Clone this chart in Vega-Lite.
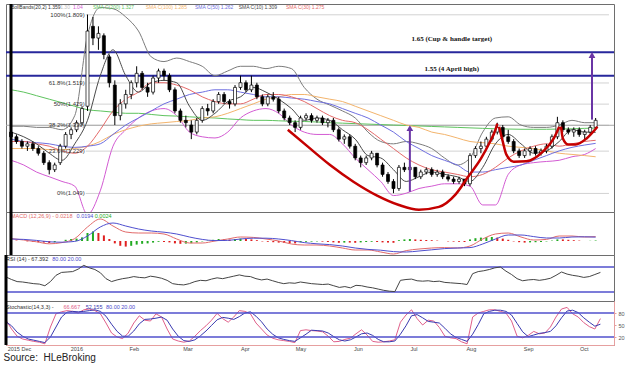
{
"$schema":"https://vega.github.io/schema/vega-lite/v6.json",
"padding":{"left":3,"top":2,"right":0,"bottom":0},
"background":"white",
"bounds":"flush",
"config":{"view":{"stroke":"#6e6e6e","strokeWidth":1},"axis":{"labelFont":"Liberation Sans","labelFontSize":5.5,"labelColor":"#555","tickSize":2,"tickColor":"#e6a0a0","domainColor":"#e6a0a0","grid":false,"labelPadding":2},"text":{"font":"Liberation Sans","fontSize":5.5,"baseline":"middle"}},
"title":{"text":"Source:\u00a0 HLeBroking","orient":"bottom","anchor":"start","font":"Liberation Sans","fontSize":10,"fontWeight":"normal","color":"#222","offset":1},
"datasets":{
"px":[
{"d":"2015-11-24","o":1.31,"h":1.32,"l":1.28,"c":1.29,"hs":0.004,"hd":"dn","r":56,"k":62,"sd":58},
{"d":"2015-11-27","o":1.29,"h":1.30,"l":1.26,"c":1.27,"hs":0.002,"hd":"dn","r":50,"k":40,"sd":48},
{"d":"2015-11-30","o":1.27,"h":1.28,"l":1.24,"c":1.25,"hs":0,"hd":"dn","r":45,"k":22,"sd":32},
{"d":"2015-12-03","o":1.25,"h":1.27,"l":1.23,"c":1.26,"hs":-0.002,"hd":"dn","r":44,"k":15,"sd":22},
{"d":"2015-12-06","o":1.26,"h":1.27,"l":1.23,"c":1.24,"hs":-0.004,"hd":"dn","r":42,"k":12,"sd":15},
{"d":"2015-12-09","o":1.24,"h":1.25,"l":1.21,"c":1.22,"hs":-0.006,"hd":"dn","r":40,"k":9,"sd":12},
{"d":"2015-12-12","o":1.22,"h":1.23,"l":1.17,"c":1.18,"hs":-0.008,"hd":"dn","r":39,"k":7,"sd":9},
{"d":"2015-12-15","o":1.18,"h":1.19,"l":1.13,"c":1.15,"hs":-0.01,"hd":"dn","r":35,"k":3,"sd":6},
{"d":"2015-12-18","o":1.15,"h":1.18,"l":1.14,"c":1.17,"hs":-0.006,"hd":"up","r":45,"k":45,"sd":20},
{"d":"2015-12-21","o":1.18,"h":1.26,"l":1.17,"c":1.25,"hs":0,"hd":"up","r":60,"k":78,"sd":45},
{"d":"2015-12-24","o":1.25,"h":1.31,"l":1.24,"c":1.30,"hs":0.006,"hd":"up","r":67,"k":83,"sd":70},
{"d":"2015-12-27","o":1.30,"h":1.33,"l":1.28,"c":1.32,"hs":0.01,"hd":"up","r":68,"k":86,"sd":82},
{"d":"2015-12-30","o":1.32,"h":1.36,"l":1.31,"c":1.35,"hs":0.012,"hd":"up","r":69,"k":84,"sd":84},
{"d":"2016-01-02","o":1.35,"h":1.42,"l":1.34,"c":1.41,"hs":0.018,"hd":"up","r":75,"k":80,"sd":83},
{"d":"2016-01-05","o":1.42,"h":1.81,"l":1.40,"c":1.74,"hs":0.04,"hd":"up","r":84,"k":88,"sd":84},
{"d":"2016-01-08","o":1.76,"h":1.80,"l":1.68,"c":1.71,"hs":0.048,"hd":"up","r":78,"k":90,"sd":86},
{"d":"2016-01-11","o":1.71,"h":1.76,"l":1.66,"c":1.73,"hs":0.04,"hd":"dn","r":74,"k":86,"sd":88},
{"d":"2016-01-14","o":1.72,"h":1.73,"l":1.62,"c":1.64,"hs":0.028,"hd":"dn","r":66,"k":78,"sd":84},
{"d":"2016-01-17","o":1.63,"h":1.64,"l":1.50,"c":1.52,"hs":0.01,"hd":"dn","r":52,"k":55,"sd":72},
{"d":"2016-01-20","o":1.51,"h":1.53,"l":1.34,"c":1.38,"hs":-0.012,"hd":"dn","r":45,"k":30,"sd":52},
{"d":"2016-01-23","o":1.38,"h":1.45,"l":1.36,"c":1.43,"hs":-0.024,"hd":"dn","r":49,"k":20,"sd":34},
{"d":"2016-01-26","o":1.43,"h":1.49,"l":1.41,"c":1.47,"hs":-0.028,"hd":"dn","r":52,"k":16,"sd":22},
{"d":"2016-01-29","o":1.47,"h":1.53,"l":1.45,"c":1.52,"hs":-0.024,"hd":"up","r":54,"k":30,"sd":22},
{"d":"2016-02-01","o":1.52,"h":1.59,"l":1.50,"c":1.56,"hs":-0.018,"hd":"up","r":57,"k":55,"sd":35},
{"d":"2016-02-04","o":1.56,"h":1.57,"l":1.49,"c":1.50,"hs":-0.014,"hd":"up","r":55,"k":73,"sd":53},
{"d":"2016-02-07","o":1.50,"h":1.52,"l":1.46,"c":1.48,"hs":-0.012,"hd":"up","r":54,"k":62,"sd":64},
{"d":"2016-02-10","o":1.48,"h":1.55,"l":1.47,"c":1.54,"hs":-0.008,"hd":"up","r":58,"k":60,"sd":65},
{"d":"2016-02-13","o":1.54,"h":1.58,"l":1.52,"c":1.57,"hs":-0.004,"hd":"up","r":56,"k":78,"sd":67},
{"d":"2016-02-16","o":1.57,"h":1.58,"l":1.53,"c":1.55,"hs":-0.005,"hd":"dn","r":53,"k":70,"sd":70},
{"d":"2016-02-19","o":1.55,"h":1.56,"l":1.48,"c":1.49,"hs":-0.007,"hd":"dn","r":48,"k":40,"sd":62},
{"d":"2016-02-22","o":1.49,"h":1.50,"l":1.39,"c":1.40,"hs":-0.012,"hd":"dn","r":40,"k":15,"sd":40},
{"d":"2016-02-25","o":1.40,"h":1.41,"l":1.35,"c":1.36,"hs":-0.014,"hd":"dn","r":38,"k":10,"sd":22},
{"d":"2016-02-28","o":1.36,"h":1.38,"l":1.33,"c":1.35,"hs":-0.013,"hd":"up","r":37,"k":7,"sd":11},
{"d":"2016-03-02","o":1.34,"h":1.36,"l":1.28,"c":1.31,"hs":-0.011,"hd":"up","r":40,"k":10,"sd":9},
{"d":"2016-03-05","o":1.31,"h":1.37,"l":1.30,"c":1.36,"hs":-0.007,"hd":"up","r":45,"k":22,"sd":13},
{"d":"2016-03-08","o":1.36,"h":1.42,"l":1.35,"c":1.41,"hs":-0.002,"hd":"up","r":48,"k":36,"sd":23},
{"d":"2016-03-11","o":1.41,"h":1.43,"l":1.38,"c":1.40,"hs":0.002,"hd":"up","r":47,"k":48,"sd":35},
{"d":"2016-03-14","o":1.40,"h":1.45,"l":1.39,"c":1.44,"hs":0.006,"hd":"up","r":51,"k":62,"sd":49},
{"d":"2016-03-17","o":1.44,"h":1.48,"l":1.43,"c":1.47,"hs":0.01,"hd":"up","r":54,"k":79,"sd":63},
{"d":"2016-03-20","o":1.47,"h":1.48,"l":1.43,"c":1.44,"hs":0.009,"hd":"dn","r":52,"k":66,"sd":69},
{"d":"2016-03-23","o":1.44,"h":1.45,"l":1.41,"c":1.43,"hs":0.007,"hd":"dn","r":55,"k":57,"sd":67},
{"d":"2016-03-26","o":1.43,"h":1.51,"l":1.42,"c":1.50,"hs":0.01,"hd":"up","r":58,"k":70,"sd":64},
{"d":"2016-03-29","o":1.50,"h":1.55,"l":1.49,"c":1.52,"hs":0.012,"hd":"up","r":61,"k":86,"sd":71},
{"d":"2016-04-01","o":1.52,"h":1.53,"l":1.48,"c":1.49,"hs":0.01,"hd":"dn","r":58,"k":84,"sd":80},
{"d":"2016-04-04","o":1.49,"h":1.55,"l":1.48,"c":1.51,"hs":0.008,"hd":"dn","r":57,"k":78,"sd":83},
{"d":"2016-04-07","o":1.51,"h":1.52,"l":1.45,"c":1.46,"hs":0.004,"hd":"dn","r":52,"k":55,"sd":72},
{"d":"2016-04-10","o":1.46,"h":1.47,"l":1.42,"c":1.43,"hs":-0.002,"hd":"dn","r":49,"k":40,"sd":58},
{"d":"2016-04-13","o":1.43,"h":1.47,"l":1.42,"c":1.46,"hs":-0.004,"hd":"dn","r":51,"k":25,"sd":40},
{"d":"2016-04-16","o":1.46,"h":1.48,"l":1.44,"c":1.45,"hs":-0.006,"hd":"dn","r":47,"k":17,"sd":27},
{"d":"2016-04-19","o":1.45,"h":1.46,"l":1.39,"c":1.40,"hs":-0.008,"hd":"dn","r":43,"k":13,"sd":18},
{"d":"2016-04-22","o":1.40,"h":1.41,"l":1.36,"c":1.37,"hs":-0.01,"hd":"dn","r":40,"k":11,"sd":14},
{"d":"2016-04-25","o":1.37,"h":1.38,"l":1.34,"c":1.35,"hs":-0.011,"hd":"dn","r":42,"k":9,"sd":11},
{"d":"2016-04-28","o":1.35,"h":1.36,"l":1.31,"c":1.33,"hs":-0.012,"hd":"dn","r":41,"k":6,"sd":9},
{"d":"2016-05-01","o":1.33,"h":1.38,"l":1.32,"c":1.37,"hs":-0.006,"hd":"up","r":44,"k":36,"sd":18},
{"d":"2016-05-04","o":1.37,"h":1.39,"l":1.36,"c":1.38,"hs":-0.004,"hd":"up","r":42,"k":38,"sd":27},
{"d":"2016-05-07","o":1.38,"h":1.39,"l":1.35,"c":1.36,"hs":-0.003,"hd":"up","r":40,"k":36,"sd":37},
{"d":"2016-05-10","o":1.36,"h":1.38,"l":1.35,"c":1.37,"hs":-0.002,"hd":"up","r":39,"k":35,"sd":36},
{"d":"2016-05-13","o":1.37,"h":1.38,"l":1.34,"c":1.35,"hs":-0.003,"hd":"dn","r":38,"k":33,"sd":35},
{"d":"2016-05-16","o":1.35,"h":1.37,"l":1.33,"c":1.36,"hs":-0.005,"hd":"dn","r":39,"k":22,"sd":30},
{"d":"2016-05-19","o":1.36,"h":1.37,"l":1.31,"c":1.32,"hs":-0.007,"hd":"dn","r":35,"k":8,"sd":21},
{"d":"2016-05-22","o":1.32,"h":1.33,"l":1.27,"c":1.28,"hs":-0.009,"hd":"dn","r":31,"k":9,"sd":13},
{"d":"2016-05-25","o":1.28,"h":1.30,"l":1.26,"c":1.29,"hs":-0.008,"hd":"up","r":33,"k":14,"sd":10},
{"d":"2016-05-28","o":1.29,"h":1.30,"l":1.24,"c":1.25,"hs":-0.008,"hd":"dn","r":30,"k":17,"sd":13},
{"d":"2016-05-31","o":1.25,"h":1.26,"l":1.19,"c":1.20,"hs":-0.009,"hd":"dn","r":36,"k":28,"sd":20},
{"d":"2016-06-03","o":1.20,"h":1.21,"l":1.16,"c":1.18,"hs":-0.007,"hd":"up","r":35,"k":38,"sd":28},
{"d":"2016-06-06","o":1.18,"h":1.21,"l":1.17,"c":1.20,"hs":-0.005,"hd":"up","r":32,"k":25,"sd":30},
{"d":"2016-06-09","o":1.20,"h":1.23,"l":1.19,"c":1.22,"hs":-0.004,"hd":"up","r":30,"k":9,"sd":24},
{"d":"2016-06-12","o":1.22,"h":1.22,"l":1.16,"c":1.17,"hs":-0.005,"hd":"dn","r":27,"k":7,"sd":14},
{"d":"2016-06-15","o":1.17,"h":1.18,"l":1.12,"c":1.13,"hs":-0.007,"hd":"dn","r":24,"k":8,"sd":8},
{"d":"2016-06-18","o":1.13,"h":1.14,"l":1.09,"c":1.10,"hs":-0.008,"hd":"dn","r":22,"k":10,"sd":8},
{"d":"2016-06-21","o":1.10,"h":1.11,"l":1.05,"c":1.07,"hs":-0.009,"hd":"dn","r":21,"k":13,"sd":10},
{"d":"2016-06-24","o":1.07,"h":1.17,"l":1.06,"c":1.16,"hs":0.004,"hd":"up","r":48,"k":57,"sd":27},
{"d":"2016-06-27","o":1.16,"h":1.18,"l":1.14,"c":1.15,"hs":0.008,"hd":"up","r":50,"k":75,"sd":48},
{"d":"2016-06-30","o":1.15,"h":1.17,"l":1.13,"c":1.16,"hs":0.01,"hd":"up","r":51,"k":88,"sd":73},
{"d":"2016-07-03","o":1.16,"h":1.16,"l":1.11,"c":1.12,"hs":0.008,"hd":"dn","r":47,"k":66,"sd":76},
{"d":"2016-07-06","o":1.12,"h":1.15,"l":1.11,"c":1.14,"hs":0.006,"hd":"dn","r":46,"k":50,"sd":68},
{"d":"2016-07-09","o":1.14,"h":1.16,"l":1.13,"c":1.15,"hs":0.005,"hd":"dn","r":47,"k":62,"sd":59},
{"d":"2016-07-12","o":1.15,"h":1.16,"l":1.12,"c":1.13,"hs":0.004,"hd":"dn","r":45,"k":60,"sd":57},
{"d":"2016-07-15","o":1.13,"h":1.15,"l":1.12,"c":1.14,"hs":0.002,"hd":"dn","r":46,"k":44,"sd":55},
{"d":"2016-07-18","o":1.14,"h":1.15,"l":1.11,"c":1.12,"hs":0,"hd":"dn","r":43,"k":22,"sd":42},
{"d":"2016-07-21","o":1.12,"h":1.13,"l":1.10,"c":1.11,"hs":-0.002,"hd":"dn","r":42,"k":18,"sd":28},
{"d":"2016-07-24","o":1.11,"h":1.12,"l":1.09,"c":1.10,"hs":-0.003,"hd":"dn","r":41,"k":16,"sd":19},
{"d":"2016-07-27","o":1.10,"h":1.12,"l":1.09,"c":1.11,"hs":-0.004,"hd":"dn","r":40,"k":8,"sd":14},
{"d":"2016-07-30","o":1.11,"h":1.11,"l":1.08,"c":1.09,"hs":-0.005,"hd":"dn","r":38,"k":3,"sd":9},
{"d":"2016-08-02","o":1.09,"h":1.22,"l":1.08,"c":1.21,"hs":0.008,"hd":"up","r":64,"k":70,"sd":27},
{"d":"2016-08-05","o":1.21,"h":1.25,"l":1.20,"c":1.24,"hs":0.014,"hd":"up","r":69,"k":80,"sd":51},
{"d":"2016-08-08","o":1.24,"h":1.27,"l":1.22,"c":1.25,"hs":0.017,"hd":"up","r":71,"k":84,"sd":78},
{"d":"2016-08-11","o":1.25,"h":1.29,"l":1.24,"c":1.28,"hs":0.019,"hd":"up","r":74,"k":88,"sd":84},
{"d":"2016-08-14","o":1.28,"h":1.32,"l":1.27,"c":1.31,"hs":0.02,"hd":"up","r":78,"k":88,"sd":87},
{"d":"2016-08-17","o":1.31,"h":1.35,"l":1.30,"c":1.33,"hs":0.017,"hd":"dn","r":80,"k":84,"sd":87},
{"d":"2016-08-20","o":1.33,"h":1.34,"l":1.28,"c":1.29,"hs":0.012,"hd":"dn","r":70,"k":80,"sd":84},
{"d":"2016-08-23","o":1.29,"h":1.32,"l":1.26,"c":1.27,"hs":0.006,"hd":"dn","r":62,"k":60,"sd":75},
{"d":"2016-08-26","o":1.27,"h":1.28,"l":1.22,"c":1.23,"hs":-0.002,"hd":"dn","r":52,"k":22,"sd":54},
{"d":"2016-08-29","o":1.23,"h":1.24,"l":1.20,"c":1.21,"hs":-0.006,"hd":"dn","r":47,"k":18,"sd":33},
{"d":"2016-09-01","o":1.21,"h":1.24,"l":1.20,"c":1.23,"hs":-0.008,"hd":"dn","r":49,"k":24,"sd":21},
{"d":"2016-09-04","o":1.23,"h":1.25,"l":1.21,"c":1.24,"hs":-0.007,"hd":"up","r":50,"k":34,"sd":25},
{"d":"2016-09-07","o":1.24,"h":1.25,"l":1.21,"c":1.22,"hs":-0.006,"hd":"up","r":48,"k":28,"sd":29},
{"d":"2016-09-10","o":1.22,"h":1.24,"l":1.21,"c":1.23,"hs":-0.005,"hd":"up","r":50,"k":30,"sd":31},
{"d":"2016-09-13","o":1.23,"h":1.26,"l":1.22,"c":1.25,"hs":-0.002,"hd":"up","r":53,"k":45,"sd":34},
{"d":"2016-09-16","o":1.25,"h":1.30,"l":1.24,"c":1.29,"hs":0.002,"hd":"up","r":60,"k":70,"sd":48},
{"d":"2016-09-19","o":1.29,"h":1.375,"l":1.28,"c":1.35,"hs":0.008,"hd":"up","r":68,"k":90,"sd":68},
{"d":"2016-09-22","o":1.35,"h":1.36,"l":1.31,"c":1.32,"hs":0.008,"hd":"dn","r":63,"k":94,"sd":85},
{"d":"2016-09-25","o":1.32,"h":1.33,"l":1.30,"c":1.31,"hs":0.006,"hd":"dn","r":60,"k":78,"sd":87},
{"d":"2016-09-28","o":1.31,"h":1.33,"l":1.29,"c":1.32,"hs":0.004,"hd":"dn","r":58,"k":70,"sd":81},
{"d":"2016-10-01","o":1.32,"h":1.33,"l":1.29,"c":1.30,"hs":0.002,"hd":"dn","r":55,"k":56,"sd":68},
{"d":"2016-10-04","o":1.30,"h":1.32,"l":1.28,"c":1.31,"hs":0,"hd":"dn","r":57,"k":46,"sd":57},
{"d":"2016-10-07","o":1.31,"h":1.34,"l":1.30,"c":1.33,"hs":0.001,"hd":"up","r":62,"k":40,"sd":47},
{"d":"2016-10-10","o":1.33,"h":1.37,"l":1.32,"c":1.36,"hs":0.0024,"hd":"up","r":67,"k":66,"sd":52}
],
"wk":[
{"d":"2015-11-24","bbu":1.335,"bbl":1.19,"s10":1.31,"s30":1.27,"s50":1.28,"s100":1.24,"s200":1.49,"m":0.012,"sg":0.010},
{"d":"2015-12-01","bbu":1.335,"bbl":1.17,"s10":1.29,"s30":1.27,"s50":1.27,"s100":1.24,"s200":1.48,"m":0.005,"sg":0.008},
{"d":"2015-12-08","bbu":1.33,"bbl":1.14,"s10":1.26,"s30":1.26,"s50":1.265,"s100":1.24,"s200":1.465,"m":-0.004,"sg":0.003},
{"d":"2015-12-15","bbu":1.33,"bbl":1.12,"s10":1.22,"s30":1.25,"s50":1.26,"s100":1.235,"s200":1.45,"m":-0.014,"sg":-0.004},
{"d":"2015-12-22","bbu":1.32,"bbl":1.10,"s10":1.19,"s30":1.23,"s50":1.25,"s100":1.235,"s200":1.435,"m":-0.008,"sg":-0.006},
{"d":"2015-12-29","bbu":1.38,"bbl":1.08,"s10":1.26,"s30":1.22,"s50":1.245,"s100":1.24,"s200":1.42,"m":0.012,"sg":-0.002},
{"d":"2016-01-05","bbu":1.72,"bbl":0.96,"s10":1.36,"s30":1.25,"s50":1.25,"s100":1.25,"s200":1.405,"m":0.07,"sg":0.025},
{"d":"2016-01-12","bbu":1.84,"bbl":1.06,"s10":1.55,"s30":1.32,"s50":1.26,"s100":1.27,"s200":1.40,"m":0.11,"sg":0.07},
{"d":"2016-01-19","bbu":1.835,"bbl":1.25,"s10":1.66,"s30":1.40,"s50":1.30,"s100":1.30,"s200":1.395,"m":0.075,"sg":0.09},
{"d":"2016-01-26","bbu":1.80,"bbl":1.32,"s10":1.55,"s30":1.45,"s50":1.34,"s100":1.32,"s200":1.39,"m":0.045,"sg":0.075},
{"d":"2016-02-02","bbu":1.74,"bbl":1.37,"s10":1.48,"s30":1.48,"s50":1.37,"s100":1.335,"s200":1.39,"m":0.04,"sg":0.06},
{"d":"2016-02-09","bbu":1.63,"bbl":1.40,"s10":1.52,"s30":1.52,"s50":1.40,"s100":1.345,"s200":1.385,"m":0.04,"sg":0.05},
{"d":"2016-02-16","bbu":1.61,"bbl":1.41,"s10":1.53,"s30":1.52,"s50":1.43,"s100":1.35,"s200":1.38,"m":0.035,"sg":0.044},
{"d":"2016-02-23","bbu":1.625,"bbl":1.38,"s10":1.52,"s30":1.51,"s50":1.45,"s100":1.355,"s200":1.378,"m":0.01,"sg":0.035},
{"d":"2016-03-01","bbu":1.61,"bbl":1.31,"s10":1.42,"s30":1.49,"s50":1.47,"s100":1.36,"s200":1.375,"m":-0.01,"sg":0.02},
{"d":"2016-03-08","bbu":1.59,"bbl":1.29,"s10":1.36,"s30":1.46,"s50":1.48,"s100":1.37,"s200":1.372,"m":-0.01,"sg":0.008},
{"d":"2016-03-15","bbu":1.55,"bbl":1.285,"s10":1.39,"s30":1.44,"s50":1.49,"s100":1.375,"s200":1.37,"m":0.0,"sg":0.002},
{"d":"2016-03-22","bbu":1.57,"bbl":1.31,"s10":1.44,"s30":1.43,"s50":1.49,"s100":1.39,"s200":1.366,"m":0.01,"sg":0.003},
{"d":"2016-03-29","bbu":1.59,"bbl":1.37,"s10":1.46,"s30":1.43,"s50":1.48,"s100":1.41,"s200":1.363,"m":0.02,"sg":0.01},
{"d":"2016-04-05","bbu":1.59,"bbl":1.40,"s10":1.50,"s30":1.45,"s50":1.47,"s100":1.43,"s200":1.36,"m":0.018,"sg":0.014},
{"d":"2016-04-12","bbu":1.58,"bbl":1.41,"s10":1.48,"s30":1.47,"s50":1.46,"s100":1.45,"s200":1.36,"m":0.01,"sg":0.014},
{"d":"2016-04-19","bbu":1.59,"bbl":1.39,"s10":1.45,"s30":1.47,"s50":1.46,"s100":1.46,"s200":1.358,"m":0.0,"sg":0.01},
{"d":"2016-04-26","bbu":1.58,"bbl":1.34,"s10":1.41,"s30":1.46,"s50":1.455,"s100":1.47,"s200":1.356,"m":-0.015,"sg":0.002},
{"d":"2016-05-03","bbu":1.50,"bbl":1.31,"s10":1.36,"s30":1.44,"s50":1.45,"s100":1.47,"s200":1.355,"m":-0.02,"sg":-0.008},
{"d":"2016-05-10","bbu":1.45,"bbl":1.30,"s10":1.37,"s30":1.41,"s50":1.44,"s100":1.46,"s200":1.353,"m":-0.02,"sg":-0.014},
{"d":"2016-05-17","bbu":1.425,"bbl":1.30,"s10":1.36,"s30":1.38,"s50":1.43,"s100":1.45,"s200":1.35,"m":-0.025,"sg":-0.018},
{"d":"2016-05-24","bbu":1.40,"bbl":1.26,"s10":1.32,"s30":1.36,"s50":1.41,"s100":1.44,"s200":1.348,"m":-0.035,"sg":-0.025},
{"d":"2016-05-31","bbu":1.37,"bbl":1.20,"s10":1.28,"s30":1.35,"s50":1.39,"s100":1.42,"s200":1.346,"m":-0.045,"sg":-0.035},
{"d":"2016-06-07","bbu":1.31,"bbl":1.15,"s10":1.21,"s30":1.32,"s50":1.37,"s100":1.40,"s200":1.344,"m":-0.045,"sg":-0.042},
{"d":"2016-06-14","bbu":1.27,"bbl":1.10,"s10":1.20,"s30":1.28,"s50":1.34,"s100":1.38,"s200":1.342,"m":-0.055,"sg":-0.046},
{"d":"2016-06-21","bbu":1.26,"bbl":1.04,"s10":1.15,"s30":1.24,"s50":1.31,"s100":1.36,"s200":1.34,"m":-0.065,"sg":-0.053},
{"d":"2016-06-28","bbu":1.27,"bbl":1.05,"s10":1.10,"s30":1.20,"s50":1.27,"s100":1.34,"s200":1.338,"m":-0.048,"sg":-0.055},
{"d":"2016-07-05","bbu":1.26,"bbl":1.07,"s10":1.12,"s30":1.17,"s50":1.24,"s100":1.33,"s200":1.336,"m":-0.04,"sg":-0.05},
{"d":"2016-07-12","bbu":1.24,"bbl":1.08,"s10":1.14,"s30":1.15,"s50":1.21,"s100":1.31,"s200":1.334,"m":-0.035,"sg":-0.044},
{"d":"2016-07-19","bbu":1.20,"bbl":1.09,"s10":1.13,"s30":1.14,"s50":1.19,"s100":1.30,"s200":1.332,"m":-0.033,"sg":-0.038},
{"d":"2016-07-26","bbu":1.17,"bbl":1.09,"s10":1.12,"s30":1.13,"s50":1.17,"s100":1.285,"s200":1.33,"m":-0.035,"sg":-0.035},
{"d":"2016-08-02","bbu":1.20,"bbl":1.08,"s10":1.10,"s30":1.12,"s50":1.14,"s100":1.27,"s200":1.328,"m":-0.025,"sg":-0.033},
{"d":"2016-08-09","bbu":1.31,"bbl":1.00,"s10":1.16,"s30":1.13,"s50":1.14,"s100":1.265,"s200":1.326,"m":0.01,"sg":-0.015},
{"d":"2016-08-16","bbu":1.37,"bbl":1.00,"s10":1.26,"s30":1.16,"s50":1.15,"s100":1.26,"s200":1.324,"m":0.035,"sg":0.01},
{"d":"2016-08-23","bbu":1.375,"bbl":1.13,"s10":1.30,"s30":1.20,"s50":1.16,"s100":1.25,"s200":1.323,"m":0.04,"sg":0.03},
{"d":"2016-08-30","bbu":1.34,"bbl":1.17,"s10":1.26,"s30":1.23,"s50":1.17,"s100":1.245,"s200":1.322,"m":0.02,"sg":0.03},
{"d":"2016-09-06","bbu":1.33,"bbl":1.18,"s10":1.22,"s30":1.25,"s50":1.19,"s100":1.24,"s200":1.322,"m":0.005,"sg":0.022},
{"d":"2016-09-13","bbu":1.33,"bbl":1.185,"s10":1.23,"s30":1.26,"s50":1.21,"s100":1.23,"s200":1.322,"m":0.008,"sg":0.015},
{"d":"2016-09-20","bbu":1.34,"bbl":1.19,"s10":1.27,"s30":1.25,"s50":1.23,"s100":1.22,"s200":1.323,"m":0.025,"sg":0.015},
{"d":"2016-09-27","bbu":1.36,"bbl":1.205,"s10":1.32,"s30":1.26,"s50":1.245,"s100":1.215,"s200":1.324,"m":0.025,"sg":0.02},
{"d":"2016-10-04","bbu":1.35,"bbl":1.215,"s10":1.31,"s30":1.27,"s50":1.255,"s100":1.21,"s200":1.326,"m":0.02,"sg":0.021},
{"d":"2016-10-10","bbu":1.35,"bbl":1.24,"s10":1.309,"s30":1.275,"s50":1.262,"s100":1.205,"s200":1.327,"m":0.0218,"sg":0.0194}
],
"fib":[
{"v":1.809,"t":"100%(1.809)"},{"v":1.519,"t":"61.8%(1.519)"},{"v":1.429,"t":"50%(1.429)"},{"v":1.339,"t":"38.2%(1.339)"},{"v":1.229,"t":"23.6%(1.229)"},{"v":1.049,"t":"0%(1.049)"}
],
"lv":[
{"v":1.65,"ty":1.708,"t":"1.65 (Cup & handle target)"},{"v":1.55,"ty":1.58,"t":"1.55 (4 April high)"}
],
"cup":[
{"g":"cup","d":"2016-04-24","v":1.32},{"g":"cup","d":"2016-05-05","v":1.248},{"g":"cup","d":"2016-05-17","v":1.171},{"g":"cup","d":"2016-05-30","v":1.099},{"g":"cup","d":"2016-06-12","v":1.04},{"g":"cup","d":"2016-06-24","v":1.0},{"g":"cup","d":"2016-07-05","v":0.98},{"g":"cup","d":"2016-07-16","v":0.992},{"g":"cup","d":"2016-07-25","v":1.044},{"g":"cup","d":"2016-08-01","v":1.12},{"g":"cup","d":"2016-08-08","v":1.197},{"g":"cup","d":"2016-08-13","v":1.269},{"g":"cup","d":"2016-08-16","v":1.32},{"g":"cup","d":"2016-08-17","v":1.346},
{"g":"h1","d":"2016-08-18","v":1.333},{"g":"h1","d":"2016-08-20","v":1.27},{"g":"h1","d":"2016-08-22","v":1.214},{"g":"h1","d":"2016-08-26","v":1.184},{"g":"h1","d":"2016-09-02","v":1.186},{"g":"h1","d":"2016-09-11","v":1.227},{"g":"h1","d":"2016-09-17","v":1.283},{"g":"h1","d":"2016-09-20","v":1.333},
{"g":"h2","d":"2016-09-21","v":1.333},{"g":"h2","d":"2016-09-22","v":1.283},{"g":"h2","d":"2016-09-25","v":1.257},{"g":"h2","d":"2016-09-29","v":1.257},{"g":"h2","d":"2016-10-05","v":1.283},{"g":"h2","d":"2016-10-11","v":1.333}
],
"ar":[
{"d":"2016-06-30","y0":1.056,"y1":1.33,"tip":1.327},{"d":"2016-10-08","y0":1.363,"y1":1.64,"tip":1.638}
],
"leg":[
{"d":"2015-11-24","t":"BollBands(20,2) 1.359","s":"txt"},
{"d":"2015-12-21","t":"1.30","s":"lg"},
{"d":"2015-12-28","t":"1.04","s":"bbl"},
{"d":"2016-01-08","t":"SMA C(200) 1.327","s":"s200"},
{"d":"2016-02-06","t":"SMA C(100) 1.285","s":"s100"},
{"d":"2016-03-04","t":"SMA C(50) 1.262","s":"s50"},
{"d":"2016-03-28","t":"SMA C(10) 1.309","s":"s10"},
{"d":"2016-04-23","t":"SMA C(30) 1.275","s":"s30"}
],
"mleg":[
{"d":"2015-11-24","t":"MACD (12,26,9) - 0.0218","s":"m"},
{"d":"2015-12-30","t":"0.0194","s":"sg"},
{"d":"2016-01-09","t":"0.0024","s":"up"}
],
"rleg":[
{"d":"2015-11-24","t":"RSI (14) - 67.392","s":"t"},
{"d":"2015-12-19","t":"80.00  20.00","s":"b"}
],
"sleg":[
{"d":"2015-11-24","t":"Stochastic(14,3,3) -","s":"t"},
{"d":"2015-12-25","t":"66.667","s":"k"},
{"d":"2016-01-06","t":"52.155","s":"sd"},
{"d":"2016-01-17","t":"80.00  20.00","s":"b"}
],
"bands":[{"v":80},{"v":20}]
},
"spacing":0,
"resolve":{"scale":{"x":"independent","y":"independent","color":"independent"}},
"vconcat":[
{
"width":608,"height":208,
"layer":[
{"data":{"name":"fib"},"mark":{"type":"rule","color":"#d2d2d2","strokeWidth":1},
 "encoding":{"x":{"datum":{"year":2016,"month":1,"date":4,"utc":true},"type":"temporal","axis":null,"scale":{"type":"utc","domain":[{"year":2015,"month":11,"date":24,"utc":true},{"year":2016,"month":10,"date":17,"hours":8,"utc":true}]}},
  "x2":{"datum":{"year":2016,"month":10,"date":17,"hours":8,"utc":true}},
  "y":{"field":"v","type":"quantitative","scale":{"domain":[0.97,1.855],"nice":false,"zero":false},
   "axis":{"orient":"right","values":[1,1.1,1.2,1.3,1.36,1.4,1.5,1.6,1.7,1.8],"format":".2f","title":null,"labelOverlap":false,"labelFontWeight":{"condition":{"test":"datum.value == 1.36","value":"bold"},"value":"normal"},"labelColor":{"condition":{"test":"datum.value == 1.36","value":"#000"},"value":"#555"}}}}},
{"data":{"values":[{}]},"mark":{"type":"rule","color":"#a8a8a8","strokeWidth":1},"encoding":{"y":{"datum":1.339,"type":"quantitative","axis":null}}},
{"data":{"name":"lv"},"mark":{"type":"rule","color":"#27279c","strokeWidth":2},"encoding":{"y":{"field":"v","type":"quantitative","axis":null}}},
{"data":{"name":"lv"},"mark":{"type":"text","font":"Liberation Serif","fontWeight":"bold","fontSize":7,"color":"#111","align":"center"},
 "encoding":{"x":{"datum":{"year":2016,"month":7,"date":23,"utc":true},"type":"temporal","axis":null},"y":{"field":"ty","type":"quantitative","axis":null},"text":{"field":"t"}}},
{"data":{"name":"wk"},"transform":[{"fold":["bbu","bbl","s200","s100","s50","s30","s10"],"as":["key","val"]}],
 "mark":{"type":"line","strokeWidth":1,"interpolate":"monotone","clip":true},
 "encoding":{"x":{"field":"d","type":"temporal","axis":null},"y":{"field":"val","type":"quantitative","axis":null},
  "color":{"field":"key","type":"nominal","legend":null,"scale":{"domain":["txt","lg","bbu","bbl","s200","s100","s50","s10","s30"],"range":["#333333","#bdbdbd","#7c7c7c","#d35bd3","#5fc45f","#f3b46c","#6f6fe0","#4a4a4a","#e56a6a"]}}}},
{"data":{"name":"px"},"mark":{"type":"rule","color":"#000","strokeWidth":1},
 "encoding":{"x":{"field":"d","type":"temporal","axis":null},"y":{"field":"l","type":"quantitative","axis":null},"y2":{"field":"h"}}},
{"data":{"name":"px"},"mark":{"type":"bar","width":3,"stroke":"#000","strokeWidth":0.7},
 "encoding":{"x":{"field":"d","type":"temporal","axis":null},"y":{"field":"o","type":"quantitative","axis":null},"y2":{"field":"c"},
  "fill":{"condition":{"test":"datum.c < datum.o","value":"#000"},"value":"#fff"}}},
{"data":{"name":"cup"},"mark":{"type":"line","color":"#c40000","strokeWidth":2.5,"interpolate":"monotone","clip":true},
 "encoding":{"x":{"field":"d","type":"temporal","axis":null},"y":{"field":"v","type":"quantitative","axis":null},"detail":{"field":"g"}}},
{"data":{"name":"ar"},"mark":{"type":"rule","color":"#6a35a5","strokeWidth":2},
 "encoding":{"x":{"field":"d","type":"temporal","axis":null},"y":{"field":"y0","type":"quantitative","axis":null},"y2":{"field":"y1"}}},
{"data":{"name":"ar"},"mark":{"type":"point","shape":"triangle-up","filled":true,"size":45,"color":"#6a35a5","opacity":1},
 "encoding":{"x":{"field":"d","type":"temporal","axis":null},"y":{"field":"tip","type":"quantitative","axis":null}}},
{"data":{"name":"fib"},"mark":{"type":"text","align":"right","dx":-1,"fontSize":6,"color":"#333"},
 "encoding":{"x":{"datum":{"year":2016,"month":1,"date":4,"utc":true},"type":"temporal","axis":null},"y":{"field":"v","type":"quantitative","axis":null},"text":{"field":"t"}}},
{"data":{"name":"leg"},"mark":{"type":"text","align":"left","fontSize":5},
 "encoding":{"x":{"field":"d","type":"temporal","axis":null},"y":{"datum":1.842,"type":"quantitative","axis":null},"text":{"field":"t"},
  "color":{"field":"s","type":"nominal","legend":null,"scale":{"domain":["txt","lg","bbu","bbl","s200","s100","s50","s10","s30"],"range":["#333333","#bdbdbd","#7c7c7c","#d35bd3","#5fc45f","#f3b46c","#6f6fe0","#4a4a4a","#e56a6a"]}}}},
{"data":{"values":[{}]},"mark":{"type":"rule","color":"#000","strokeWidth":3},"encoding":{"x":{"datum":{"year":2015,"month":11,"date":24,"utc":true},"type":"temporal","axis":null}}}
]
},
{
"width":608,"height":43,
"layer":[
{"data":{"name":"px"},"mark":{"type":"bar","width":2},
 "encoding":{"x":{"field":"d","type":"temporal","axis":null,"scale":{"type":"utc","domain":[{"year":2015,"month":11,"date":24,"utc":true},{"year":2016,"month":10,"date":17,"hours":8,"utc":true}]}},
  "y":{"field":"hs","type":"quantitative","scale":{"domain":[-0.07,0.145],"nice":false,"zero":false},
   "axis":{"orient":"right","values":[-0.06,-0.02,0.02,0.06,0.1,0.14],"format":".2f","title":null,"labelOverlap":false}},
  "y2":{"datum":0},
  "color":{"field":"hd","type":"nominal","legend":null,"scale":{"domain":["m","sg","up","dn"],"range":["#e26a6a","#4f4fcf","#22aa22","#e02020"]}}}},
{"data":{"name":"wk"},"transform":[{"fold":["m","sg"],"as":["key","val"]}],
 "mark":{"type":"line","strokeWidth":1,"interpolate":"monotone","clip":true},
 "encoding":{"x":{"field":"d","type":"temporal","axis":null},"y":{"field":"val","type":"quantitative","axis":null},
  "color":{"field":"key","type":"nominal","legend":null,"scale":{"domain":["m","sg","up","dn"],"range":["#e26a6a","#4f4fcf","#22aa22","#e02020"]}}}},
{"data":{"name":"mleg"},"mark":{"type":"text","align":"left","fontSize":5.5},
 "encoding":{"x":{"field":"d","type":"temporal","axis":null},"y":{"datum":0.125,"type":"quantitative","axis":null},"text":{"field":"t"},
  "color":{"field":"s","type":"nominal","legend":null,"scale":{"domain":["m","sg","up","dn"],"range":["#e26a6a","#4f4fcf","#22aa22","#e02020"]}}}},
{"data":{"values":[{}]},"mark":{"type":"rule","color":"#000","strokeWidth":3},"encoding":{"x":{"datum":{"year":2015,"month":11,"date":24,"utc":true},"type":"temporal","axis":null}}}
]
},
{
"width":608,"height":46,
"layer":[
{"data":{"name":"bands"},"mark":{"type":"rule","color":"#5050cc","strokeWidth":1.5},
 "encoding":{"y":{"field":"v","type":"quantitative","scale":{"domain":[-1.6,108.8],"nice":false,"zero":false},
  "axis":{"orient":"right","values":[20,50,80],"title":null,"labelOverlap":false}}}},
{"data":{"name":"px"},"mark":{"type":"line","color":"#444","strokeWidth":1},
 "encoding":{"x":{"field":"d","type":"temporal","axis":null,"scale":{"type":"utc","domain":[{"year":2015,"month":11,"date":24,"utc":true},{"year":2016,"month":10,"date":17,"hours":8,"utc":true}]}},
  "y":{"field":"r","type":"quantitative","axis":null}}},
{"data":{"name":"rleg"},"mark":{"type":"text","align":"left","fontSize":5.5},
 "encoding":{"x":{"field":"d","type":"temporal","axis":null},"y":{"datum":99,"type":"quantitative","axis":null},"text":{"field":"t"},
  "color":{"field":"s","type":"nominal","legend":null,"scale":{"domain":["t","b"],"range":["#333333","#4a4acc"]}}}},
{"data":{"values":[{}]},"mark":{"type":"rule","color":"#000","strokeWidth":3},"encoding":{"x":{"datum":{"year":2015,"month":11,"date":24,"utc":true},"type":"temporal","axis":null}}}
]
},
{
"width":608,"height":44,
"layer":[
{"data":{"name":"px"},"transform":[{"fold":["k","sd"],"as":["key","val"]}],
 "mark":{"type":"line","strokeWidth":1},
 "encoding":{"x":{"field":"d","type":"temporal","scale":{"type":"utc","domain":[{"year":2015,"month":11,"date":24,"utc":true},{"year":2016,"month":10,"date":17,"hours":8,"utc":true}]},
   "axis":{"orient":"bottom","title":null,"ticks":false,"values":[{"year":2015,"month":12,"date":1,"utc":true},{"year":2016,"month":1,"date":1,"utc":true},{"year":2016,"month":2,"date":1,"utc":true},{"year":2016,"month":3,"date":1,"utc":true},{"year":2016,"month":4,"date":1,"utc":true},{"year":2016,"month":5,"date":1,"utc":true},{"year":2016,"month":6,"date":1,"utc":true},{"year":2016,"month":7,"date":1,"utc":true},{"year":2016,"month":8,"date":1,"utc":true},{"year":2016,"month":9,"date":1,"utc":true},{"year":2016,"month":10,"date":1,"utc":true}],
   "labelExpr":"utcmonth(datum.value) == 11 ? '2015 Dec' : (utcmonth(datum.value) == 0 ? '2016' : utcFormat(datum.value, '%b'))","labelOverlap":false,"labelFlush":false,"labelPadding":1,"labelColor":"#444"}},
  "y":{"field":"val","type":"quantitative","scale":{"domain":[0,110],"nice":false,"zero":false},"axis":{"orient":"right","values":[20,50,80],"title":null,"labelOverlap":false}},
  "color":{"field":"key","type":"nominal","legend":null,"scale":{"domain":["t","k","sd","b"],"range":["#333333","#e0608a","#3a3ab0","#4a4acc"]}}}},
{"data":{"name":"bands"},"mark":{"type":"rule","color":"#5050cc","strokeWidth":1.5},
 "encoding":{"y":{"field":"v","type":"quantitative","axis":{"orient":"right","values":[20,50,80],"title":null,"labelOverlap":false}}}},
{"data":{"name":"sleg"},"mark":{"type":"text","align":"left","fontSize":5.5},
 "encoding":{"x":{"field":"d","type":"temporal"},"y":{"datum":95,"type":"quantitative","axis":{"orient":"right","values":[20,50,80],"title":null,"labelOverlap":false}},"text":{"field":"t"},
  "color":{"field":"s","type":"nominal","legend":null,"scale":{"domain":["t","k","sd","b"],"range":["#333333","#e0608a","#3a3ab0","#4a4acc"]}}}},
{"data":{"values":[{}]},"mark":{"type":"rule","color":"#000","strokeWidth":3},"encoding":{"x":{"datum":{"year":2015,"month":11,"date":24,"utc":true},"type":"temporal"}}}
]
}
]
}
